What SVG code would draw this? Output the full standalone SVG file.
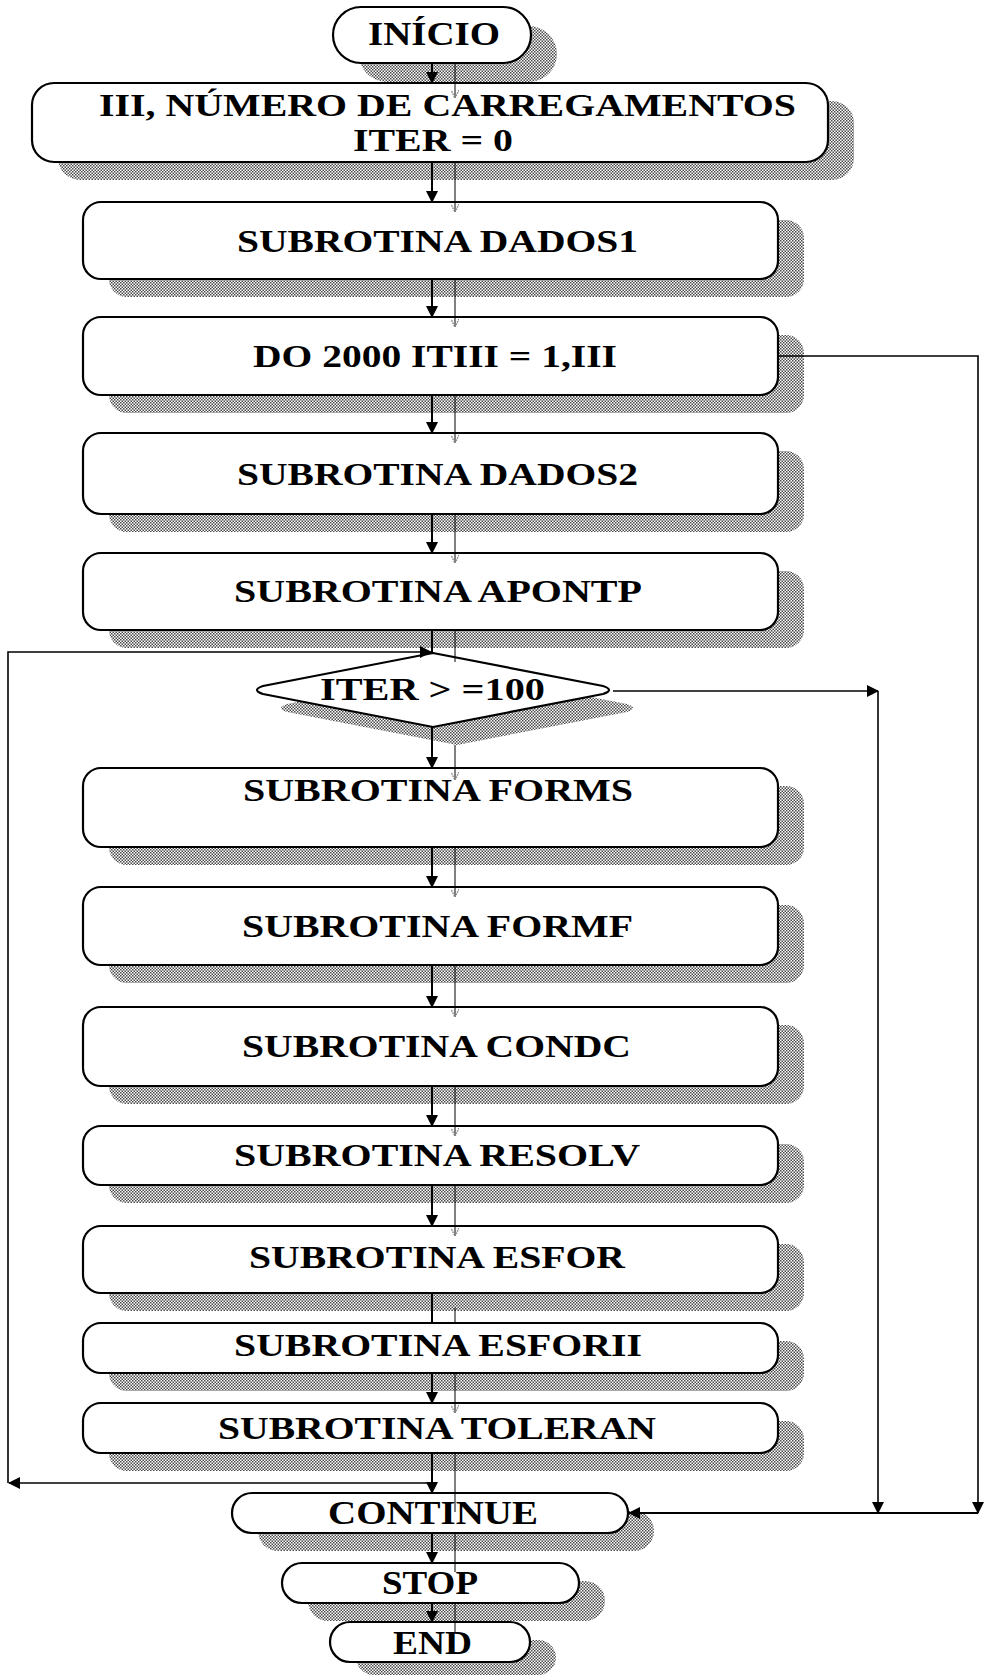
<svg xmlns="http://www.w3.org/2000/svg" width="989" height="1675" viewBox="0 0 989 1675">
<style>
.box{fill:#fff;stroke:#000;stroke-width:2.2}
.sh{fill:url(#dots);stroke:none}
.t{font-family:"Liberation Serif","Times New Roman",serif;font-weight:bold;font-size:31px;fill:#000}
.tt{font-family:"Liberation Serif","Times New Roman",serif;font-weight:bold;font-size:33px;fill:#000}
.c{fill:none;stroke:#000;stroke-width:2}
.cl{fill:none;stroke:#000;stroke-width:1.6}
.th{fill:none;stroke:#000;stroke-width:1}
</style>
<defs>
<pattern id="dots" width="3" height="3" patternUnits="userSpaceOnUse">
<rect width="3" height="3" fill="#fff"/>
<rect x="0" y="0" width="1.5" height="1.5" fill="#4a4a4a"/>
<rect x="1.5" y="1.5" width="1.5" height="1.5" fill="#4a4a4a"/>
</pattern>
<marker id="ah" viewBox="0 0 12 12" markerWidth="12" markerHeight="12" refX="11" refY="6" orient="auto" markerUnits="userSpaceOnUse">
<path d="M0,0 L12,6 L0,12 z" fill="#000"/>
</marker>
<marker id="sa" viewBox="0 0 8 8" markerWidth="8" markerHeight="8" refX="8" refY="4" orient="auto" markerUnits="userSpaceOnUse">
<path d="M0,0 L8,4 L0,8" fill="none" stroke="#888" stroke-width="1.5" stroke-dasharray="1.5,1"/>
</marker>
</defs>
<rect width="989" height="1675" fill="#fff"/>

<g id="n_inicio">
<rect class="sh" x="359" y="26" width="198" height="56" rx="28"/>
<rect class="box" x="333" y="7" width="198" height="56" rx="28"/>
<text class="tt" x="368" y="45" textLength="132" lengthAdjust="spacingAndGlyphs">INÍCIO</text>
</g>
<g id="n_iii">
<rect class="sh" x="58" y="101" width="796" height="79" rx="22"/>
<rect class="box" x="32" y="83" width="796" height="79" rx="22"/>
<text class="t" x="99" y="116" textLength="697" lengthAdjust="spacingAndGlyphs">III, NÚMERO DE CARREGAMENTOS</text>
<text class="t" x="353" y="151" textLength="160" lengthAdjust="spacingAndGlyphs">ITER = 0</text>
</g>
<g id="n_dados1">
<rect class="sh" x="109" y="220" width="695" height="77" rx="18"/>
<rect class="box" x="83" y="202" width="695" height="77" rx="18"/>
<text class="t" x="237" y="252" textLength="401" lengthAdjust="spacingAndGlyphs">SUBROTINA DADOS1</text>
</g>
<g id="n_do2000">
<rect class="sh" x="109" y="335" width="695" height="78" rx="18"/>
<rect class="box" x="83" y="317" width="695" height="78" rx="18"/>
<text class="t" x="253" y="367" textLength="364" lengthAdjust="spacingAndGlyphs">DO 2000 ITIII = 1,III</text>
</g>
<g id="n_dados2">
<rect class="sh" x="109" y="451" width="695" height="81" rx="18"/>
<rect class="box" x="83" y="433" width="695" height="81" rx="18"/>
<text class="t" x="237" y="485" textLength="401" lengthAdjust="spacingAndGlyphs">SUBROTINA DADOS2</text>
</g>
<g id="n_apontp">
<rect class="sh" x="109" y="571" width="695" height="77" rx="18"/>
<rect class="box" x="83" y="553" width="695" height="77" rx="18"/>
<text class="t" x="234" y="602" textLength="408" lengthAdjust="spacingAndGlyphs">SUBROTINA APONTP</text>
</g>
<g id="n_iter">
<path class="sh" d="M457,671 L627,704 Q639,708 627,712 L457,745 L287,712 Q275,708 287,704 Z"/>
<path class="box" d="M433,653 L603,686 Q615,690 603,694 L433,727 L263,694 Q251,690 263,686 Z"/>
<text class="t" x="320" y="700" textLength="225" lengthAdjust="spacingAndGlyphs">ITER &gt; =100</text>
</g>
<g id="n_forms">
<rect class="sh" x="109" y="786" width="695" height="79" rx="18"/>
<rect class="box" x="83" y="768" width="695" height="79" rx="18"/>
<text class="t" x="243" y="801" textLength="390" lengthAdjust="spacingAndGlyphs">SUBROTINA FORMS</text>
</g>
<g id="n_formf">
<rect class="sh" x="109" y="905" width="695" height="78" rx="18"/>
<rect class="box" x="83" y="887" width="695" height="78" rx="18"/>
<text class="t" x="242" y="937" textLength="391" lengthAdjust="spacingAndGlyphs">SUBROTINA FORMF</text>
</g>
<g id="n_condc">
<rect class="sh" x="109" y="1025" width="695" height="79" rx="18"/>
<rect class="box" x="83" y="1007" width="695" height="79" rx="18"/>
<text class="t" x="242" y="1057" textLength="389" lengthAdjust="spacingAndGlyphs">SUBROTINA CONDC</text>
</g>
<g id="n_resolv">
<rect class="sh" x="109" y="1144" width="695" height="59" rx="18"/>
<rect class="box" x="83" y="1126" width="695" height="59" rx="18"/>
<text class="t" x="234" y="1166" textLength="406" lengthAdjust="spacingAndGlyphs">SUBROTINA RESOLV</text>
</g>
<g id="n_esfor">
<rect class="sh" x="109" y="1244" width="695" height="67" rx="18"/>
<rect class="box" x="83" y="1226" width="695" height="67" rx="18"/>
<text class="t" x="249" y="1268" textLength="376" lengthAdjust="spacingAndGlyphs">SUBROTINA ESFOR</text>
</g>
<g id="n_esforii">
<rect class="sh" x="109" y="1341" width="695" height="50" rx="18"/>
<rect class="box" x="83" y="1323" width="695" height="50" rx="18"/>
<text class="t" x="234" y="1356" textLength="408" lengthAdjust="spacingAndGlyphs">SUBROTINA ESFORII</text>
</g>
<g id="n_toleran">
<rect class="sh" x="109" y="1421" width="695" height="50" rx="18"/>
<rect class="box" x="83" y="1403" width="695" height="50" rx="18"/>
<text class="t" x="218" y="1439" textLength="438" lengthAdjust="spacingAndGlyphs">SUBROTINA TOLERAN</text>
</g>
<g id="n_continue">
<rect class="sh" x="258" y="1511" width="396" height="40" rx="20"/>
<rect class="box" x="232" y="1493" width="396" height="40" rx="20"/>
<text class="tt" x="328" y="1524" textLength="210" lengthAdjust="spacingAndGlyphs">CONTINUE</text>
</g>
<g id="n_stop">
<rect class="sh" x="308" y="1581" width="297" height="40" rx="20"/>
<rect class="box" x="282" y="1563" width="297" height="40" rx="20"/>
<text class="tt" x="382" y="1594" textLength="96" lengthAdjust="spacingAndGlyphs">STOP</text>
</g>
<g id="n_end">
<rect class="sh" x="356" y="1640" width="200" height="35" rx="18"/>
<rect class="box" x="330" y="1622" width="200" height="40" rx="20"/>
<text class="tt" x="393" y="1654" textLength="79" lengthAdjust="spacingAndGlyphs">END</text>
</g>

<g id="connectors">
<path class="c" marker-end="url(#ah)" d="M432,63 V83"/>
<path class="c" marker-end="url(#ah)" d="M432,162 V202"/>
<path class="c" marker-end="url(#ah)" d="M432,279 V317"/>
<path class="c" marker-end="url(#ah)" d="M432,395 V433"/>
<path class="c" marker-end="url(#ah)" d="M432,514 V553"/>
<path class="c" d="M432,630 V653"/>
<path class="c" marker-end="url(#ah)" d="M432,727 V768"/>
<path class="c" marker-end="url(#ah)" d="M432,847 V887"/>
<path class="c" marker-end="url(#ah)" d="M432,965 V1007"/>
<path class="c" marker-end="url(#ah)" d="M432,1086 V1126"/>
<path class="c" marker-end="url(#ah)" d="M432,1185 V1226"/>
<path class="c" d="M432,1293 V1323"/>
<path class="c" marker-end="url(#ah)" d="M432,1373 V1403"/>
<path class="c" marker-end="url(#ah)" d="M432,1453 V1493"/>
<path class="c" marker-end="url(#ah)" d="M432,1533 V1563"/>
<path class="c" marker-end="url(#ah)" d="M432,1603 V1622"/>

<path class="th" marker-end="url(#sa)" d="M455,64 V98"/>
<path class="th" marker-end="url(#sa)" d="M455,162 V212"/>
<path class="th" marker-end="url(#sa)" d="M455,279 V327"/>
<path class="th" marker-end="url(#sa)" d="M455,395 V443"/>
<path class="th" marker-end="url(#sa)" d="M455,514 V563"/>
<path class="th" d="M455,630 V662"/>
<path class="th" marker-end="url(#sa)" d="M455,745 V780"/>
<path class="th" marker-end="url(#sa)" d="M455,847 V897"/>
<path class="th" marker-end="url(#sa)" d="M455,965 V1017"/>
<path class="th" marker-end="url(#sa)" d="M455,1086 V1136"/>
<path class="th" marker-end="url(#sa)" d="M455,1185 V1236"/>
<path class="th" d="M455,1308 V1323"/>
<path class="th" marker-end="url(#sa)" d="M455,1373 V1413"/>
<path class="th" d="M455,1453 V1512"/>
<path class="th" d="M455,1533 V1572"/>
<path class="th" d="M455,1603 V1633"/>

<path class="cl" marker-end="url(#ah)" d="M432,1483 H9"/>
<path class="cl" marker-end="url(#ah)" d="M8,1483 V652 H431"/>
<path class="cl" marker-end="url(#ah)" d="M613,691 H878"/>
<path class="cl" marker-end="url(#ah)" d="M878,691 V1513"/>
<path class="cl" marker-end="url(#ah)" d="M778,356 H978 V1513"/>
<path class="c" stroke-width="2.5" marker-end="url(#ah)" d="M978,1513 H629"/>
</g>
</svg>
